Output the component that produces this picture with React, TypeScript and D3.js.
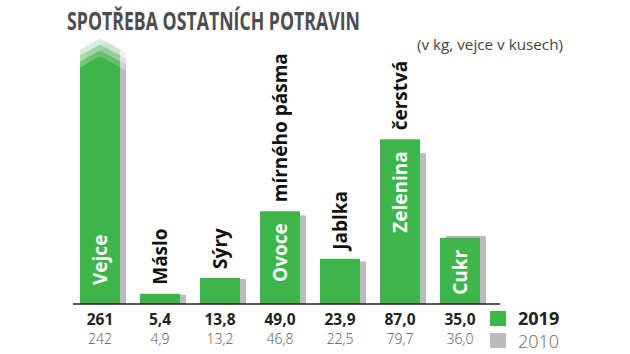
import * as d3 from 'd3';

const categories = ['Vejce', 'Máslo', 'Sýry', 'Ovoce', 'Jablka', 'Zelenina', 'Cukr'];
const values2019 = [261, 5.4, 13.8, 49.0, 23.9, 87.0, 35.0];
const values2010 = [242, 4.9, 13.2, 46.8, 22.5, 79.7, 36.0];
const text2019 = ['261', '5,4', '13,8', '49,0', '23,9', '87,0', '35,0'];
const text2010 = ['242', '4,9', '13,2', '46,8', '22,5', '79,7', '36,0'];
const insideLabels = ['Vejce', '', '', 'Ovoce', '', 'Zelenina', 'Cukr'];
const aboveLabels = ['', 'Máslo', 'Sýry', 'mírného pásma', 'Jablka', 'čerstvá', ''];
const legendYears = ['2019', '2010'];

const GREEN = '#3db54a';
const GRAY = '#bcbcc0';
const FONT = "'Open Sans', 'DejaVu Sans', sans-serif";
const breakAt = 125; // bars above this are cut off with an arrow top

export default function App() {
  const baseY = 304;
  const x = d3.scaleBand<string>().domain(categories).range([70, 490]).paddingInner(1 / 3).paddingOuter(1 / 6);
  const y = d3.scaleLinear().domain([0, 100]).range([baseY, 114.7]);
  const bw = x.bandwidth();
  const off = 6;

  const arrowPath = (x0: number, top: number) =>
    `M${x0},${baseY}V${top}L${x0 + bw / 2},${top - 11}L${x0 + bw},${top}V${baseY}Z`;

  const bar = (x0: number, v: number, fill: string, key: string) => {
    if (v <= breakAt) {
      return <rect key={key} x={x0} y={y(v)} width={bw} height={baseY - y(v)} fill={fill} />;
    }
    const top = y(breakAt) + (fill === GRAY ? 3 : 0);
    const fades = [0.2, 0.32, 0.48];
    return (
      <g key={key}>
        {fades.map((o, i) => (
          <path key={i} d={arrowPath(x0, top - (3 - i) * 6)} fill={fill} opacity={o} />
        ))}
        <path d={arrowPath(x0, top)} fill={fill} />
      </g>
    );
  };

  return (
    <svg width={630} height={354} style={{ position: 'absolute', left: 0, top: 0, background: '#fff' }}>
      <text x={67} y={30} fontFamily={FONT} fontWeight={700} fontSize={25} fill="#4d4d4f"
        textLength={293} lengthAdjust="spacingAndGlyphs">SPOTŘEBA OSTATNÍCH POTRAVIN</text>
      <text x={417} y={50} fontFamily={FONT} fontSize={14.5} fill="#444"
        textLength={146} lengthAdjust="spacingAndGlyphs">(v kg, vejce v kusech)</text>

      {categories.map((c, i) => bar(x(c)! + off, values2010[i], GRAY, 'g' + c))}
      {categories.map((c, i) => bar(x(c)!, values2019[i], GREEN, 'n' + c))}

      <line x1={73} x2={500} y1={baseY} y2={baseY} stroke="#222" strokeWidth={1.6} />

      {categories.map((c, i) => {
        const cx = x(c)! + bw / 2;
        const top = y(Math.min(values2019[i], breakAt));
        const inside = i === 0
          ? { y: 285, anchor: 'start' }
          : { y: top + 12, anchor: 'end' };
        return (
          <g key={'l' + c} fontFamily={FONT} fontWeight={700} fontSize={19}>
            {insideLabels[i] && (
              <text transform={`translate(${cx},${inside.y}) rotate(-90)`} textAnchor={inside.anchor}
                dy="0.36em" fill="#fff">{insideLabels[i]}</text>
            )}
            {aboveLabels[i] && (
              <text transform={`translate(${cx},${top - 9}) rotate(-90)`} textAnchor="start"
                dy="0.36em" fill="#111">{aboveLabels[i]}</text>
            )}
            <text x={cx} y={325} textAnchor="middle" fontSize={15.5} fill="#222">{text2019[i]}</text>
            <text x={cx} y={344} textAnchor="middle" fontSize={14} fontWeight={300} fill="#555">{text2010[i]}</text>
          </g>
        );
      })}

      {legendYears.map((yr, i) => (
        <g key={yr} transform={`translate(490,${311 + i * 22})`}>
          <rect width={16} height={15} fill={i === 0 ? GREEN : GRAY} />
          <text x={28} y={i === 0 ? 13.5 : 15} fontFamily={FONT} fontSize={18} fontWeight={i === 0 ? 700 : 300}
            fill={i === 0 ? '#222' : '#666'}>{yr}</text>
        </g>
      ))}
    </svg>
  );
}
